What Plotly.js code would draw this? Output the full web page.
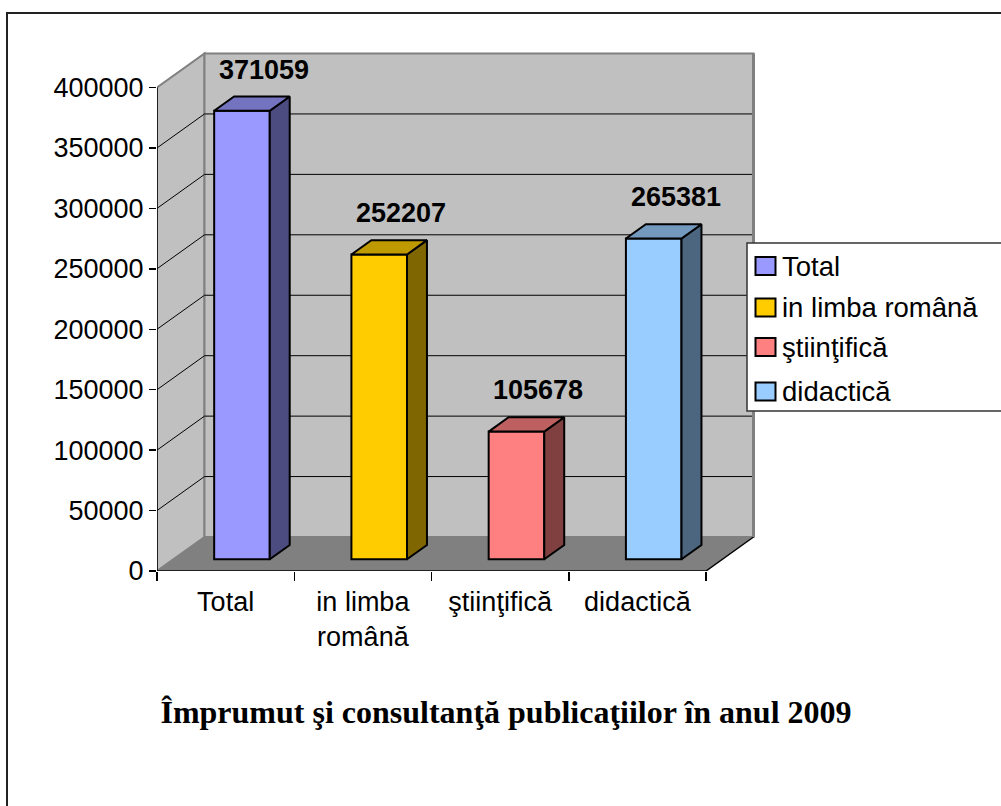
<!DOCTYPE html>
<html>
<head>
<meta charset="utf-8">
<script src="https://cdn.plot.ly/plotly-3.0.1.min.js"></script>
<style>html,body{margin:0;padding:0;background:#fff;}#chart{width:1001px;height:806px;}</style>
</head>
<body>
<div id="chart"></div>
<script>
// ---- data ----
const categories = ['Total', 'in limba română', 'ştiinţifică', 'didactică'];
const tickLabels = ['Total', 'in limba<br>română', 'ştiinţifică', 'didactică'];
const values = [371059, 252207, 105678, 265381];
const yTickValues = [0, 50000, 100000, 150000, 200000, 250000, 300000, 350000, 400000];
const chartTitle = 'Împrumut şi consultanţă publicaţiilor în anul 2009';

// ---- style ----
const frontColors = ['#9999FF', '#FFCC00', '#FF8080', '#99CCFF'];
const topColors   = ['#7373BF', '#BF9900', '#BF6060', '#7399BF'];
const sideColors  = ['#4C4C80', '#806600', '#804040', '#4C6680'];
const FONT = 'Liberation Sans, Arial, sans-serif';

// plot area geometry (pixels)
const L = 157, R = 760, T = 40, B = 571, W = 1001, H = 806;
const catW = 137.25;                      // px per category
const pxPerUnit = 483.5 / 400000;          // px per value unit
const xMax = -0.5 + (R - L) / catW;
const yMax = (B - T) / pxPerUnit;
// depth vector in data units
const DX = 47.5 / catW;
const DY = 34 / pxPerUnit;
const fD = 0.344, fB = 0.764, halfW = 0.2025;
const nCat = categories.length;
const yTop = yTickValues[yTickValues.length - 1];

const px = v => (v - L) / (R - L);
const py = v => (B - v) / (B - T);

const traces = [];
const annotations = [];
const shapes = [];

// walls and floor
const xl = -0.5, xr = nCat - 0.5;
shapes.push({type:'path', layer:'below', xref:'x', yref:'y',
  path:`M${xl},0 L${xl},${yTop} L${xl+DX},${yTop+DY} L${xl+DX},${DY} Z`,
  fillcolor:'#C0C0C0', line:{color:'#808080', width:2}});
shapes.push({type:'path', layer:'below', xref:'x', yref:'y',
  path:`M${xl+DX},${DY} L${xl+DX},${yTop+DY} L${xr+DX},${yTop+DY} L${xr+DX},${DY} Z`,
  fillcolor:'#C0C0C0', line:{color:'#808080', width:2}});
// gridlines
yTickValues.forEach(v => {
  if (v === 0 || v === yTop) return;
  shapes.push({type:'line', layer:'below', xref:'x', yref:'y', x0:xl, y0:v, x1:xl+DX, y1:v+DY, line:{color:'black', width:1}});
  shapes.push({type:'line', layer:'below', xref:'x', yref:'y', x0:xl+DX, y0:v+DY, x1:xr+DX, y1:v+DY, line:{color:'black', width:1}});
});
// floor
shapes.push({type:'path', layer:'below', xref:'x', yref:'y',
  path:`M${xl},0 L${xr},0 L${xr+DX},${DY} L${xl+DX},${DY} Z`,
  fillcolor:'#808080', line:{width:0}});
shapes.push({type:'line', layer:'below', xref:'x', yref:'y', x0:xr, y0:0, x1:xr+DX, y1:DY, line:{color:'black', width:1.5}});
shapes.push({type:'line', layer:'below', xref:'x', yref:'y', x0:xr+DX, y0:DY, x1:xr+DX, y1:yTop+DY, line:{color:'#808080', width:3}});
// axis lines
shapes.push({type:'line', layer:'above', xref:'x', yref:'y', x0:xl, y0:0, x1:xr, y1:0, line:{color:'black', width:1.5}});
shapes.push({type:'line', layer:'above', xref:'x', yref:'y', x0:xl, y0:0, x1:xl, y1:yTop, line:{color:'black', width:1.5}});

// bars
values.forEach((v, i) => {
  const base = fD * DY;
  const x0f = i + fD * DX - halfW, x1f = i + fD * DX + halfW;
  const ddx = (fB - fD) * DX, ddy = (fB - fD) * DY;
  const top = base + v;
  traces.push({type:'bar', x:[i], y:[v], base:[base], width:[2*halfW], offset:[fD*DX - halfW],
    name:categories[i], showlegend:false, hoverinfo:'skip',
    marker:{color:frontColors[i], line:{color:'black', width:2}}});
  traces.push({type:'scatter', mode:'lines', fill:'toself', fillcolor:sideColors[i],
    x:[x1f, x1f, x1f+ddx, x1f+ddx, x1f], y:[base, top, top+ddy, base+ddy, base],
    line:{color:'black', width:2}, showlegend:false, hoverinfo:'skip'});
  traces.push({type:'scatter', mode:'lines', fill:'toself', fillcolor:topColors[i],
    x:[x0f, x1f, x1f+ddx, x0f+ddx, x0f], y:[top, top, top+ddy, top+ddy, top],
    line:{color:'black', width:2}, showlegend:false, hoverinfo:'skip'});
  annotations.push({xref:'x', yref:'y', x:i + (fD+fB)/2*DX, y:top+ddy, xshift:12, yshift:10,
    yanchor:'bottom', xanchor:'center', showarrow:false, text:'<b>'+String(v)+'</b>',
    font:{family:FONT, size:27, color:'black'}});
});

// outer frame
shapes.push({type:'rect', xref:'paper', yref:'paper', layer:'above',
  x0:px(7), x1:px(1012), y0:py(818), y1:py(13), line:{color:'#222', width:2}, fillcolor:'rgba(0,0,0,0)'});

// manual legend
shapes.push({type:'rect', xref:'paper', yref:'paper', layer:'above',
  x0:px(747), x1:px(1012), y0:py(411), y1:py(243), line:{color:'#333', width:1.5}, fillcolor:'white'});
const legY = [266, 307.5, 347, 391.5];
categories.forEach((c, i) => {
  shapes.push({type:'rect', xref:'paper', yref:'paper', layer:'above',
    x0:px(755.5), x1:px(775.5), y0:py(legY[i]+9), y1:py(legY[i]-9),
    fillcolor:frontColors[i], line:{color:'black', width:2}});
  annotations.push({xref:'paper', yref:'paper', x:px(780), y:py(legY[i]), xanchor:'left', yanchor:'middle',
    showarrow:false, text:c, font:{family:FONT, size:27.5, color:'black'}});
});

const layout = {
  width:W, height:H,
  margin:{l:L, r:W-R, t:T, b:H-B, pad:0},
  paper_bgcolor:'white', plot_bgcolor:'rgba(0,0,0,0)',
  showlegend:false, barmode:'overlay',
  title:{text:'<b>'+chartTitle+'</b>', font:{family:'Liberation Serif, Times New Roman, serif', size:32, color:'black'},
    x:506/W, xanchor:'center', y:1-712/H, yanchor:'middle'},
  xaxis:{range:[-0.5, xMax], tickmode:'array', tickvals:categories.map((c,i)=>i), ticktext:tickLabels,
    ticks:'', showgrid:false, zeroline:false, showline:false, ticklabelstandoff:12,
    tickfont:{family:FONT, size:27, color:'black'},
    minor:{tickmode:'array', tickvals:Array.from({length:nCat+1},(_, k)=>k-0.5), ticks:'outside', ticklen:9, tickcolor:'black', tickwidth:1.5, showgrid:false},
    fixedrange:true},
  yaxis:{range:[0, yMax], tickmode:'array', tickvals:yTickValues, ticktext:yTickValues.map(v=>String(v)),
    ticks:'outside', ticklen:7, tickcolor:'black', tickwidth:1.5, showgrid:false, zeroline:false, showline:false,
    tickfont:{family:FONT, size:27, color:'black'}, fixedrange:true},
  shapes:shapes, annotations:annotations
};

Plotly.newPlot('chart', traces, layout, {staticPlot:true, displayModeBar:false});
</script>
</body>
</html>
